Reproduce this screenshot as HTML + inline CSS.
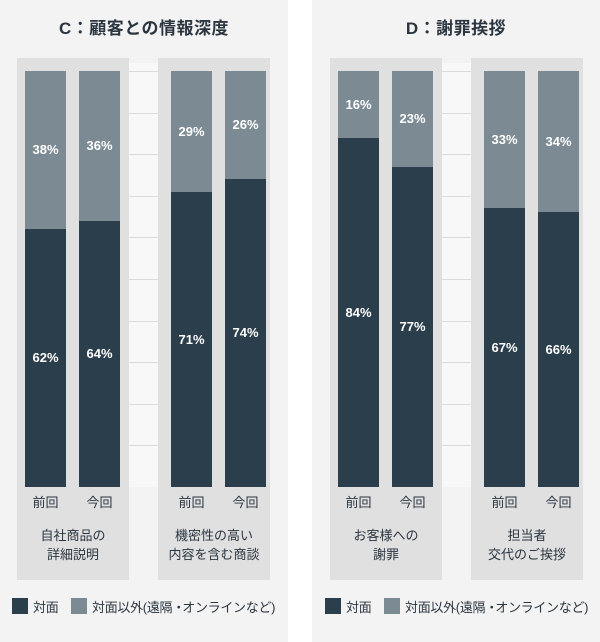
<!DOCTYPE html>
<html><head><meta charset="utf-8"><style>
*{margin:0;padding:0;box-sizing:border-box}
body{width:600px;height:642px;background:#fff;position:relative;overflow:hidden;font-family:"Liberation Sans","Noto Sans CJK JP",sans-serif;color:#2a3540}
div{position:absolute}
.panel{background:#f3f3f3;top:0;height:642px;width:288px}
.title{top:14px;font-size:17px;font-weight:bold;text-align:center;width:288px;letter-spacing:0.5px}
.grp{background:#e0e0e0;top:58px;height:522px;width:112px}
.mid{background:#f8f8f8;top:63px;height:424px;width:29px}
.line{height:1px;background:#dcdcdc;width:29px}
.bar{top:71px;height:416px;width:41px}
.lt{background:#7b8a93}
.dk{background:#2b3e4c}
.pct{color:#fff;font-size:13px;font-weight:bold;text-align:center;width:41px}
.cat{top:492px;font-size:13px;width:41px;text-align:center}
.desc{top:526px;font-size:13px;width:112px;text-align:center;line-height:19px}
.leg{top:597px;font-size:13px;white-space:nowrap;letter-spacing:-0.3px}
.sq{width:16px;height:16px;top:598px}
</style></head><body>
<div class="panel" style="left:0"></div>
<div class="panel" style="left:312px"></div>
<div class="title" style="left:0">C：顧客との情報深度</div>
<div class="title" style="left:312px">D：謝罪挨拶</div>
<script>
const b=document.body;
function add(h){b.insertAdjacentHTML('beforeend',h)}
const groups=[
 {gx:17,bars:[[25,38],[79,36]],desc:'自社商品の<br>詳細説明'},
 {gx:158,bars:[[171,29],[225,26]],desc:'機密性の高い<br>内容を含む商談'},
 {gx:330,bars:[[338,16],[392,23]],desc:'お客様への<br>謝罪'},
 {gx:471,bars:[[484,33],[538,34]],desc:'担当者<br>交代のご挨拶'}
];
[129,442].forEach(x=>{add(`<div class="mid" style="left:${x}px"></div>`);for(let k=0;k<10;k++){add(`<div class="line" style="left:${x}px;top:${Math.round(71+41.6*k)}px"></div>`)}});
groups.forEach(g=>{
 add(`<div class="grp" style="left:${g.gx}px"></div>`);
 g.bars.forEach((br,i)=>{
  const [x,p]=br;const h=Math.round(416*p/100);
  add(`<div class="bar dk" style="left:${x}px"></div><div class="bar lt" style="left:${x}px;height:${h}px"></div>`);
  add(`<div class="pct" style="left:${x}px;top:${71+h/2-8}px">${p}%</div>`);
  add(`<div class="pct" style="left:${x}px;top:${71+h+(416-h)/2-8}px">${100-p}%</div>`);
  add(`<div class="cat" style="left:${x}px">${i?'今回':'前回'}</div>`);
 });
 add(`<div class="desc" style="left:${g.gx}px">${g.desc}</div>`);
});
[12,325].forEach(x=>{
 add(`<div class="sq dk" style="left:${x}px"></div><div class="leg" style="left:${x+21}px">対面</div>`);
 add(`<div class="sq lt" style="left:${x+59}px"></div><div class="leg" style="left:${x+80}px">対面以外(遠隔<span style="letter-spacing:-3px">・</span>オンラインなど)</div>`);
});
</script>
</body></html>
